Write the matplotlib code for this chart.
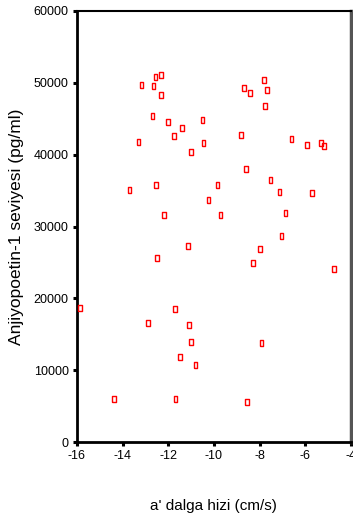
import matplotlib
matplotlib.use("Agg")
import matplotlib.pyplot as plt

# a' wave velocity (cm/s) vs angiopoietin-1 level (pg/ml)
a_dalga = [-13.18, -12.56, -12.32, -12.65, -12.32, -12.69, -12.00, -11.39, -10.50, -11.75,
           -13.31, -10.46, -11.01, -13.70, -12.54, -10.24, -12.20, -7.81, -8.68, -8.41,
           -7.68, -7.77, -8.81, -6.60, -5.91, -5.30, -5.17, -8.59, -9.84, -7.52,
           -7.12, -5.69, -9.71, -6.86, -11.14, -12.49, -15.88, -11.70, -12.89, -11.10,
           -11.01, -11.48, -10.81, -14.39, -11.69, -7.04, -7.99, -8.29, -4.74, -7.91,
           -8.54]
anjiyopoetin = [49730, 50760, 51120, 49500, 48340, 45370, 44540, 43740, 44770, 42590,
                41750, 41570, 40360, 35030, 35810, 33640, 31640, 50340, 49310, 48530,
                48950, 46720, 42770, 42170, 41380, 41570, 41200, 38000, 35810, 36420,
                34840, 34660, 31640, 31830, 27280, 25650, 18690, 18510, 16520, 16280,
                13920, 11790, 10760, 5980, 5980, 28670, 26860, 24910, 24080, 13740,
                5570]

x_ticks = [-16, -14, -12, -10, -8, -6, -4]
y_ticks = [0, 10000, 20000, 30000, 40000, 50000, 60000]

plt.rcParams['font.family'] = ['Liberation Sans Narrow', 'Liberation Sans', 'DejaVu Sans']

fig = plt.figure(figsize=(3.53, 5.22), dpi=100)
ax = fig.add_axes([0.218, 0.153, 0.776, 0.826])

# tall open rectangle marker
rect = [(-0.6, -1), (0.6, -1), (0.6, 1), (-0.6, 1), (-0.6, -1)]
ax.scatter(a_dalga, anjiyopoetin, marker=rect, s=19, facecolors='none',
           edgecolors='#ff0000', linewidths=1.0, zorder=3)

ax.set_xlim(-16, -4)
ax.set_ylim(0, 60000)
ax.set_xticks(x_ticks)
ax.set_yticks(y_ticks)
ax.set_xticklabels([str(t) for t in x_ticks], fontsize=9)
ax.set_yticklabels([str(t) for t in y_ticks], fontsize=9)
ax.tick_params(direction='out', length=3, width=2.2, color='black', pad=3)

for side in ['left', 'bottom']:
    ax.spines[side].set_linewidth(2)
ax.spines['top'].set_linewidth(1.5)
ax.spines['right'].set_linewidth(2.5)
ax.spines['right'].set_color('#555555')

ax.set_xlabel("a' dalga hizi (cm/s)", fontsize=11, labelpad=26)
ax.set_ylabel("Anjiyopoetin-1 seviyesi (pg/ml)", fontsize=12.5, labelpad=7)

fig.savefig("out.png", dpi=100)
